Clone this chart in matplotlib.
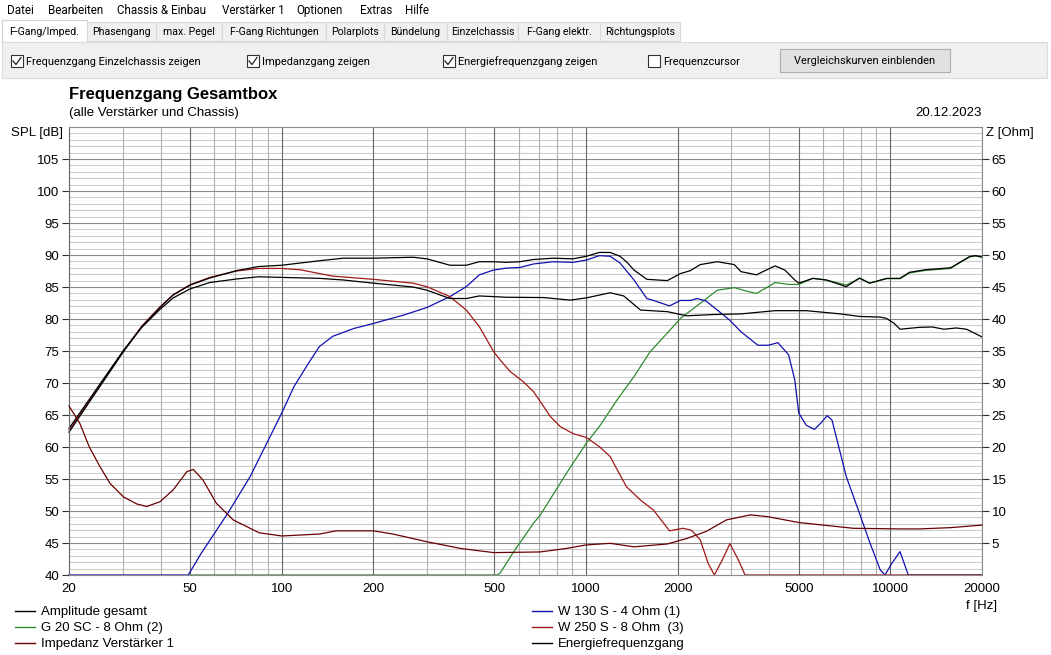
import matplotlib
matplotlib.use('Agg')
import matplotlib.pyplot as plt
from matplotlib.patches import Rectangle
from matplotlib.ticker import FixedLocator, NullFormatter

plt.rcParams['font.family'] = ['Liberation Sans', 'DejaVu Sans']

# Amplitude gesamt (Summe)
amp_f = [20, 24, 30.2, 34.7, 39.8, 44, 50, 58, 71, 84, 100, 133, 159, 200, 270, 300, 357, 404, 446,
         497, 546, 606, 672, 780, 906, 1002, 1106, 1200, 1293, 1357, 1437, 1584, 1849, 2043, 2200,
         2372, 2700, 3070, 3230, 3630, 3870, 4180, 4500, 4850, 5000, 5560, 6150, 7160, 7920, 8540,
         9727, 10756, 11560, 13060, 15760, 17050, 18200, 19060, 20000]
amp_db = [62.3, 67.9, 74.9, 78.8, 81.8, 83.75, 85.3, 86.4, 87.55, 88.2, 88.4, 89.1, 89.5, 89.5, 89.65,
          89.4, 88.4, 88.4, 88.95, 88.95, 88.85, 88.95, 89.3, 89.5, 89.4, 89.8, 90.4, 90.4, 89.8, 88.95,
          87.65, 86.2, 86.0, 87.1, 87.55, 88.5, 88.95, 88.5, 87.4, 86.9, 87.55, 88.3, 87.65, 86.1, 85.6,
          86.35, 86.1, 85.05, 86.4, 85.6, 86.35, 86.35, 87.3, 87.7, 88.0, 88.95, 89.75, 89.9, 89.7]

# Energiefrequenzgang
ene_f = [20, 24, 30.2, 34.7, 39.8, 44, 50, 58, 71, 84, 100, 133, 159, 200, 270, 300, 357, 404, 446,
         497, 546, 725, 888, 1002, 1200, 1330, 1510, 1849, 2140, 2630, 3230, 4180, 5290, 6840, 7920,
         9260, 9700, 10300, 10756, 12480, 13740, 15000, 16450, 17800, 20000]
ene_db = [62.9, 68.3, 75.1, 78.7, 81.5, 83.3, 84.7, 85.7, 86.25, 86.6, 86.5, 86.35, 86.1, 85.6, 85.0,
          84.5, 83.2, 83.2, 83.6, 83.5, 83.4, 83.35, 82.95, 83.3, 84.1, 83.6, 81.4, 81.15, 80.5, 80.7,
          80.8, 81.3, 81.3, 80.8, 80.4, 80.3, 80.1, 79.3, 78.4, 78.7, 78.75, 78.4, 78.6, 78.4, 77.2]

# G 20 SC - 8 Ohm (2)
g20_f = [50, 510, 522, 576, 672, 706, 862, 1002, 1106, 1262, 1437, 1624, 1849, 2043, 2372, 2700, 3070,
         3400, 3630, 3970, 4180, 4630, 5000, 5560, 6150, 7160, 7920, 8540, 9727, 10756, 11560, 13060,
         15760, 17050, 18200, 19060, 20000]
g20_db = [40, 40, 40.3, 43.5, 48.1, 49.3, 55.9, 60.6, 63.2, 67.3, 71.0, 74.9, 77.8, 80.1, 82.45, 84.5,
          84.9, 84.3, 84.0, 85.05, 85.7, 85.4, 85.4, 86.35, 86.1, 85.3, 86.35, 85.6, 86.3, 86.3, 87.2,
          87.6, 87.9, 88.9, 89.7, 89.85, 89.65]

# W 130 S - 4 Ohm (1)
w130_f = [20, 49.3, 54.4, 66.4, 78.8, 89.3, 100, 109.6, 122.5, 133, 147.2, 172, 200, 251, 300, 357, 404,
          446, 497, 546, 606, 672, 780, 906, 1002, 1106, 1200, 1293, 1437, 1584, 1665, 1880, 2043, 2200,
          2320, 2480, 2740, 2960, 3230, 3670, 3970, 4270, 4630, 4850, 5000, 5290, 5630, 5900, 6200,
          6430, 7160, 7920, 8540, 9260, 9600, 10100, 10756, 11450, 20000]
w130_db = [40, 40, 43.4, 49.6, 55.4, 60.6, 65.3, 69.4, 73.1, 75.7, 77.3, 78.5, 79.3, 80.6, 81.8, 83.5,
           85.05, 86.9, 87.65, 87.95, 88.05, 88.6, 88.95, 88.85, 89.2, 89.9, 89.8, 88.75, 86.1, 83.2, 82.9,
           82.05, 82.9, 82.9, 83.2, 82.8, 81.15, 79.85, 78.0, 75.9, 75.9, 76.3, 74.4, 70.5, 65.3, 63.4,
           62.75, 63.7, 64.9, 64.2, 55.4, 49.6, 45.2, 40.8, 40, 41.8, 43.65, 40, 40]

# W 250 S - 8 Ohm (3)
w250_f = [20, 24, 30.2, 34.7, 39.8, 44, 50, 58, 71, 84, 100, 114.8, 133, 147, 200, 270, 300, 357, 404,
          446, 497, 522, 563, 622, 672, 764, 822, 906, 1002, 1106, 1200, 1357, 1510, 1665, 1880, 2080,
          2220, 2372, 2520, 2640, 2800, 2970, 3170, 3330, 20000]
w250_db = [62.6, 68.0, 75.0, 78.9, 81.9, 83.8, 85.35, 86.5, 87.5, 87.9, 87.9, 87.7, 87.1, 86.7, 86.2,
           85.6, 85.05, 83.5, 81.4, 78.8, 74.9, 73.6, 71.8, 70.2, 68.65, 64.75, 63.2, 62.1, 61.5, 60.05,
           58.5, 53.8, 51.7, 50.15, 46.9, 47.3, 47.0, 45.5, 41.8, 40, 42.3, 44.9, 42.3, 40, 40]

# Impedanz Verstaerker 1 [Ohm]
imp_f = [20, 21.7, 23.3, 25.3, 27.3, 30.2, 33.4, 36, 39.8, 44, 48.8, 51.2, 55.1, 61, 69.3, 84.3, 100,
         133, 151, 200, 232, 300, 387, 497, 706, 862, 1002, 1200, 1437, 1849, 2140, 2480, 2890, 3470,
         3970, 5000, 6430, 7550, 10756, 12480, 15760, 20000]
imp_ohm = [26.4, 23.7, 20.05, 16.9, 14.3, 12.2, 11.1, 10.7, 11.45, 13.3, 16.15, 16.5, 14.85, 11.2, 8.6,
           6.6, 6.1, 6.4, 6.9, 6.9, 6.4, 5.2, 4.15, 3.5, 3.6, 4.15, 4.7, 4.95, 4.4, 4.85, 5.7, 6.8, 8.6,
           9.4, 9.1, 8.2, 7.65, 7.3, 7.2, 7.2, 7.4, 7.8]

x_major = [20, 50, 100, 200, 500, 1000, 2000, 5000, 10000, 20000]
x_minor = [30, 40, 60, 70, 80, 90, 300, 400, 600, 700, 800, 900, 3000, 4000, 6000, 7000, 8000, 9000]
spl_ticks = list(range(40, 110, 5))
spl_minor = [v for v in range(41, 110) if v % 5 != 0]
z_ticks = list(range(5, 70, 5))
menu_items = ['Datei', 'Bearbeiten', 'Chassis & Einbau', 'Verstärker 1', 'Optionen', 'Extras', 'Hilfe']
tabs = ['F-Gang/Imped.', 'Phasengang', 'max. Pegel', 'F-Gang Richtungen', 'Polarplots',
        'Bündelung', 'Einzelchassis', 'F-Gang elektr.', 'Richtungsplots']

W, H = 1051, 655
fig = plt.figure(figsize=(W / 100, H / 100), dpi=100)
fig.patch.set_facecolor('white')

# ---- Fensterelemente in Pixelkoordinaten ----
ui = fig.add_axes([0, 0, 1, 1], zorder=0)
ui.set_xlim(0, W)
ui.set_ylim(H, 0)
ui.axis('off')

ui_font = ['Roboto', 'DejaVu Sans']
menu_x = [7, 48, 117, 222, 296, 360, 405]
for mx, m in zip(menu_x, menu_items):
    ui.text(mx, 14, m, fontsize=8.4, family=ui_font, va='baseline', ha='left', color='#000000')

tab_x = [2, 87, 156, 222, 326, 384, 447, 518, 600, 680]
for i, t in enumerate(tabs):
    x0, x1 = tab_x[i], tab_x[i + 1]
    if i == 0:
        ui.add_patch(Rectangle((x0, 20), x1 - x0, 22, facecolor='white', edgecolor='#d0d0d0', lw=0.8))
    else:
        ui.add_patch(Rectangle((x0, 22), x1 - x0, 19, facecolor='#f0f0f0', edgecolor='#d9d9d9', lw=0.8))
    ui.text((x0 + x1) / 2, 35, t, fontsize=7.6, family=ui_font, va='baseline', ha='center')

ui.add_patch(Rectangle((2, 42), 1045, 36, facecolor='#f0f0f0', edgecolor='#dcdcdc', lw=0.8))
checks = [(11, 'Frequenzgang Einzelchassis zeigen', True),
          (247, 'Impedanzgang zeigen', True),
          (443, 'Energiefrequenzgang zeigen', True),
          (648, 'Frequenzcursor', False)]
for cx, label, on in checks:
    ui.add_patch(Rectangle((cx, 55), 12, 12, facecolor='white', edgecolor='#333333', lw=0.8))
    if on:
        ui.plot([cx + 2, cx + 5, cx + 10], [61, 64.5, 57.5], color='#222222', lw=0.9)
    ui.text(cx + 15, 65, label, fontsize=7.9, family=ui_font, va='baseline', ha='left')

ui.add_patch(Rectangle((780, 49), 170, 23, facecolor='#e1e1e1', edgecolor='#adadad', lw=0.8))
ui.text(865, 64.5, 'Vergleichskurven einblenden', fontsize=7.9, family=ui_font, va='baseline', ha='center')

# ---- Diagramm ----
ax = fig.add_axes([69 / W, 1 - 575 / H, 913 / W, 448 / H], zorder=2)
ax.set_facecolor('none')
ax.set_xscale('log')
ax.set_xlim(20, 20000)
ax.set_ylim(40, 110)
ax.xaxis.set_major_locator(FixedLocator(x_major))
ax.xaxis.set_minor_locator(FixedLocator(x_minor))
ax.xaxis.set_minor_formatter(NullFormatter())
ax.set_xticklabels([str(v) for v in x_major])
ax.set_yticks(spl_ticks)

# Gitter: feine Linien zuerst, kraeftige darueber
ax.hlines(spl_minor, 20, 20000, colors='#cdcdcd', lw=0.8, zorder=0.1)
ax.vlines(x_minor, 40, 110, colors='#b0b0b0', lw=0.8, zorder=0.2)
ax.hlines(spl_ticks, 20, 20000, colors='#8a8a8a', lw=0.8, zorder=0.3)
ax.vlines(x_major, 40, 110, colors='#686868', lw=0.8, zorder=0.4)

for s in ax.spines.values():
    s.set_color('#8c8c8c')
    s.set_linewidth(0.8)
ax.spines['left'].set_color('#686868')
ax.tick_params(axis='x', which='both', length=0, labelsize=9.5, pad=6)
ax.tick_params(axis='y', which='major', length=5, color='#333333', labelsize=9.5, pad=2)

axz = ax.twinx()
axz.set_ylim(0, 70)
axz.set_yticks(z_ticks)
axz.tick_params(axis='y', length=5, color='#333333', labelsize=9.5, pad=2)
for s in axz.spines.values():
    s.set_visible(False)

lw = 0.9
ax.plot(g20_f, g20_db, color='#2e8b2e', lw=lw, clip_on=False, label='G 20 SC - 8 Ohm (2)')
ax.plot(w130_f, w130_db, color='#1010b0', lw=lw, clip_on=False, label='W 130 S - 4 Ohm (1)')
ax.plot(w250_f, w250_db, color='#a01818', lw=lw, clip_on=False, label='W 250 S - 8 Ohm  (3)')
axz.plot(imp_f, imp_ohm, color='#6a0000', lw=lw, clip_on=False, label='Impedanz Verstärker 1')
ax.plot(ene_f, ene_db, color='#000000', lw=lw, clip_on=False, label='Energiefrequenzgang')
ax.plot(amp_f, amp_db, color='#000000', lw=lw, clip_on=False, label='Amplitude gesamt')

fig.text(69 / W, 1 - 99 / H, 'Frequenzgang Gesamtbox', fontsize=12, fontweight='bold', va='baseline')
fig.text(69 / W, 1 - 116 / H, '(alle Verstärker und Chassis)', fontsize=9.5, va='baseline')
fig.text(982 / W, 1 - 116 / H, '20.12.2023', fontsize=9.5, va='baseline', ha='right')
fig.text(63 / W, 1 - 136 / H, 'SPL [dB]', fontsize=9.5, va='baseline', ha='right')
fig.text(986 / W, 1 - 136 / H, 'Z [Ohm]', fontsize=9.5, va='baseline', ha='left')
fig.text(982 / W, 1 - 609 / H, 'f [Hz]', fontsize=9.5, va='baseline', ha='center')

# Legende in zwei Spalten
handles = {l.get_label(): l for l in ax.get_lines() + axz.get_lines()}
left_col = ['Amplitude gesamt', 'G 20 SC - 8 Ohm (2)', 'Impedanz Verstärker 1']
right_col = ['W 130 S - 4 Ohm (1)', 'W 250 S - 8 Ohm  (3)', 'Energiefrequenzgang']
for col, lx in ((left_col, 15), (right_col, 532)):
    for k, name in enumerate(col):
        yy = 611 + 16 * k
        ui.plot([lx, lx + 20], [yy, yy], color=handles[name].get_color(), lw=1.0)
        ui.text(lx + 26, yy + 4, name, fontsize=9.5, va='baseline', ha='left')

fig.savefig('out.png', dpi=100)
